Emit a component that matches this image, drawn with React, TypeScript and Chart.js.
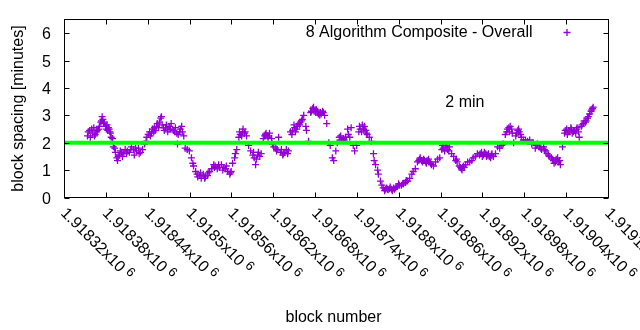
import React, { useEffect, useRef } from "react";
import { Chart, registerables } from "chart.js";

Chart.register(...registerables);

// ---- data ----
const blockNumbers = [
  1918353, 1918356, 1918357, 1918360, 1918362, 1918364, 1918366, 1918369, 1918370, 1918372,
  1918373, 1918374, 1918376, 1918377, 1918379, 1918380, 1918382, 1918383, 1918385, 1918386,
  1918387, 1918389, 1918390, 1918392, 1918393, 1918395, 1918396, 1918397, 1918399, 1918402,
  1918405, 1918407, 1918410, 1918413, 1918416, 1918419, 1918420, 1918423, 1918426, 1918429,
  1918432, 1918435, 1918438, 1918440, 1918442, 1918445, 1918446, 1918449, 1918450, 1918453,
  1918456, 1918458, 1918459, 1918460, 1918463, 1918465, 1918468, 1918471, 1918473, 1918476,
  1918478, 1918481, 1918482, 1918483, 1918486, 1918489, 1918491, 1918493, 1918496, 1918499,
  1918502, 1918504, 1918505, 1918508, 1918511, 1918514, 1918516, 1918519, 1918522, 1918525,
  1918528, 1918531, 1918534, 1918536, 1918539, 1918542, 1918545, 1918548, 1918551, 1918554,
  1918557, 1918559, 1918561, 1918564, 1918565, 1918567, 1918570, 1918572, 1918575, 1918578,
  1918581, 1918584, 1918587, 1918590, 1918592, 1918594, 1918597, 1918600, 1918602, 1918605,
  1918608, 1918611, 1918614, 1918617, 1918620, 1918623, 1918625, 1918627, 1918630, 1918633,
  1918635, 1918638, 1918641, 1918644, 1918647, 1918650, 1918653, 1918656, 1918658, 1918661,
  1918663, 1918666, 1918667, 1918670, 1918673, 1918676, 1918678, 1918681, 1918684, 1918687,
  1918690, 1918693, 1918696, 1918699, 1918701, 1918704, 1918706, 1918709, 1918711, 1918714,
  1918717, 1918720, 1918723, 1918726, 1918729, 1918731, 1918734, 1918736, 1918739, 1918742,
  1918744, 1918747, 1918749, 1918752, 1918754, 1918757, 1918760, 1918763, 1918764, 1918766,
  1918769, 1918770, 1918773, 1918775, 1918777, 1918780, 1918783, 1918786, 1918789, 1918792,
  1918795, 1918797, 1918800, 1918803, 1918806, 1918809, 1918812, 1918815, 1918818, 1918820,
  1918823, 1918826, 1918829, 1918832, 1918835, 1918838, 1918840, 1918843, 1918846, 1918849,
  1918852, 1918855, 1918858, 1918861, 1918863, 1918866, 1918869, 1918872, 1918875, 1918878,
  1918881, 1918883, 1918886, 1918889, 1918892, 1918895, 1918898, 1918901, 1918904, 1918906,
  1918909, 1918912, 1918915, 1918918, 1918921, 1918924, 1918926, 1918929, 1918932, 1918935,
  1918938, 1918941, 1918944, 1918947, 1918949, 1918952, 1918955, 1918958, 1918959, 1918962,
  1918964, 1918967, 1918970, 1918972, 1918975, 1918978, 1918981, 1918984, 1918987, 1918990,
  1918992, 1918995, 1918998, 1919001, 1919004, 1919007, 1919010, 1919012, 1919015, 1919018,
  1919021, 1919024, 1919027, 1919030, 1919031, 1919034, 1919037, 1919040, 1919043, 1919046,
  1919048, 1919051, 1919054, 1919057, 1919058, 1919061, 1919064, 1919067, 1919070, 1919073,
  1919076, 1919078,
  // in-between blocks (spread of the band)
  1918354, 1918359, 1918363, 1918367, 1918375, 1918381, 1918384, 1918400, 1918403, 1918409,
  1918415, 1918422, 1918427, 1918437, 1918443, 1918448, 1918452, 1918455, 1918462, 1918466,
  1918470, 1918472, 1918479, 1918485, 1918488, 1918510, 1918515, 1918521, 1918526, 1918535,
  1918541, 1918547, 1918552, 1918558, 1918571, 1918574, 1918576, 1918579, 1918591, 1918595,
  1918598, 1918607, 1918609, 1918612, 1918618, 1918624, 1918631, 1918634, 1918640, 1918646,
  1918649, 1918651, 1918654, 1918657, 1918660, 1918674, 1918677, 1918680, 1918683, 1918686,
  1918688, 1918691, 1918716, 1918721, 1918727, 1918743, 1918746, 1918750, 1918753, 1918779,
  1918782, 1918784, 1918787, 1918790, 1918793, 1918799, 1918805, 1918810, 1918828, 1918830,
  1918833, 1918836, 1918839, 1918842, 1918845, 1918862, 1918865, 1918868, 1918871, 1918882,
  1918888, 1918890, 1918893, 1918916, 1918919, 1918922, 1918925, 1918928, 1918931, 1918933,
  1918954, 1918957, 1918961, 1918968, 1918971, 1918974, 1918997, 1919003, 1919008, 1919014,
  1919020, 1919022, 1919025, 1919028, 1919038, 1919041, 1919044, 1919047, 1919050, 1919053,
  1919055, 1919062, 1919065, 1919068, 1919071, 1919075, 1919077,
];

const blockSpacing = [
  2.25, 2.45, 2.2, 2.35, 2.55, 2.3, 2.4, 2.5, 2.6, 2.75,
  2.8, 2.95, 2.7, 2.75, 2.6, 2.5, 2.45, 2.55, 2.4, 2.35,
  2.2, 2.15, 1.85, 1.8, 1.65, 1.45, 1.35, 1.5, 1.55, 1.65,
  1.6, 1.75, 1.7, 1.65, 1.85, 1.75, 1.55, 1.7, 1.8, 1.65,
  1.75, 1.95, 2.2, 2.3, 2.4, 2.35, 2.5, 2.55, 2.45, 2.7,
  2.75, 2.9, 2.95, 2.65, 2.45, 2.55, 2.4, 2.6, 2.7, 2.45,
  2.4, 2.35, 1.95, 2.3, 2.5, 2.4, 2.25, 1.8, 1.75, 1.7,
  1.45, 1.25, 1.15, 0.95, 0.75, 0.8, 0.7, 0.85, 0.75, 0.8,
  0.95, 1.05, 1.2, 1.15, 1.05, 1.1, 1.2, 1.1, 1.05, 0.95,
  0.85, 0.95, 1.25, 1.45, 1.6, 1.75, 2.2, 2.3, 2.4, 2.35,
  2.25, 1.9, 1.7, 1.55, 1.45, 1.2, 1.55, 1.5, 1.6, 2.15,
  2.3, 2.25, 2.35, 2.15, 1.85, 1.8, 1.75, 2.2, 1.65, 1.55,
  1.65, 1.75, 1.7, 2.4, 2.45, 2.55, 2.5, 2.7, 2.75, 2.85,
  3.0, 2.6, 2.45, 2.05, 3.1, 3.25, 3.15, 3.2, 3.05, 3.1,
  3.15, 3.0, 2.7, 2.0, 1.9, 1.45, 1.35, 1.7, 2.0, 2.2,
  2.1, 2.15, 2.2, 2.5, 2.2, 2.55, 1.9, 1.7, 1.9, 2.4,
  2.5, 2.65, 2.5, 2.45, 2.3, 2.2, 2.05, 1.6, 1.35, 1.2,
  1.0, 0.85, 0.6, 0.45, 0.35, 0.3, 0.3, 0.32, 0.3, 0.35,
  0.35, 0.4, 0.45, 0.45, 0.5, 0.55, 0.6, 0.7, 0.85, 0.95,
  1.05, 1.3, 1.4, 1.35, 1.4, 1.3, 1.35, 1.3, 1.2, 1.15,
  1.3, 1.4, 1.45, 1.75, 1.8, 1.9, 1.75, 1.85, 1.6, 1.5,
  1.35, 1.3, 1.15, 1.05, 1.15, 1.2, 1.3, 1.3, 1.35, 1.45,
  1.5, 1.6, 1.55, 1.65, 1.55, 1.6, 1.55, 1.5, 1.55, 1.5,
  1.6, 1.85, 1.8, 1.9, 1.95, 2.3, 2.5, 2.4, 2.6, 2.35,
  2.0, 2.25, 2.45, 2.4, 2.2, 2.1, 2.1, 2.05, 2.1, 1.95,
  2.0, 1.8, 1.95, 1.85, 1.75, 1.85, 1.7, 1.6, 1.5, 1.45,
  1.35, 1.3, 1.45, 1.35, 1.2, 1.85, 2.35, 2.5, 2.4, 2.55,
  2.35, 2.45, 2.5, 2.4, 2.2, 2.6, 2.7, 2.75, 2.9, 3.05,
  3.2, 3.3,
  // in-between blocks (spread of the band)
  2.4, 2.5, 2.25, 2.45, 2.85, 2.65, 2.5, 1.7, 1.5, 1.6,
  1.75, 1.8, 1.6, 2.05, 2.25, 2.4, 2.6, 2.55, 2.55, 2.65,
  2.5, 2.5, 2.55, 2.4, 2.6, 0.85, 0.9, 0.7, 0.9, 1.1,
  1.2, 1.0, 1.15, 0.9, 2.4, 2.25, 2.5, 2.4, 1.65, 1.4,
  1.65, 2.25, 2.35, 2.2, 1.95, 1.7, 1.75, 1.6, 1.6, 2.3,
  2.65, 2.4, 2.6, 2.65, 2.8, 3.15, 3.3, 3.1, 3.15, 3.0,
  3.05, 3.1, 2.25, 2.1, 2.3, 2.6, 2.4, 2.6, 2.35, 0.25,
  0.35, 0.28, 0.38, 0.25, 0.3, 0.5, 0.5, 0.62, 1.35, 1.45,
  1.3, 1.35, 1.25, 1.4, 1.25, 1.9, 1.7, 1.85, 1.7, 1.4,
  1.1, 1.0, 1.1, 1.6, 1.5, 1.65, 1.5, 1.6, 1.45, 1.6,
  2.4, 2.55, 2.5, 2.35, 2.5, 2.3, 1.9, 1.8, 1.75, 1.55,
  1.4, 1.25, 1.4, 1.3, 2.45, 2.3, 2.45, 2.5, 2.4, 2.35,
  2.55, 2.65, 2.8, 2.8, 2.95, 3.15, 3.25,
];

const targetSpacing = 2;
const xMin = 1918320;
const xMax = 1919100;
const yMin = 0;
const yMax = 6.5;

const xTickValues = [
  1918320, 1918380, 1918440, 1918500, 1918560, 1918620, 1918680,
  1918740, 1918800, 1918860, 1918920, 1918980, 1919040, 1919100,
];
const xTickMantissas = [
  "1.91832", "1.91838", "1.91844", "1.9185", "1.91856", "1.91862", "1.91868",
  "1.91874", "1.9188", "1.91886", "1.91892", "1.91898", "1.91904", "1.9191",
];
const xTickExponent = "6";
const yTickValues = [0, 1, 2, 3, 4, 5, 6];

const seriesLabel = "8 Algorithm Composite - Overall";
const xTitle = "block number";
const yTitle = "block spacing [minutes]";
const noteText = "2 min";
const noteX = 1918866;
const noteY = 3.3;

const PURPLE = "#9400d3";
const GREEN = "#00ff00";
const FONT = '"Liberation Sans", Arial, sans-serif';

const decorPlugin = {
  id: "gnuplotDecor",
  afterDraw(chart: any) {
    const { ctx, chartArea: a, scales } = chart;
    const xs = scales.x;
    const ys = scales.y;
    ctx.save();
    ctx.strokeStyle = "#000";
    ctx.fillStyle = "#000";
    ctx.lineWidth = 1;

    // border
    ctx.strokeRect(a.left, a.top, a.right - a.left, a.bottom - a.top);

    // ticks (inward, mirrored)
    const tl = 5;
    ctx.beginPath();
    for (const v of yTickValues) {
      const py = Math.round(ys.getPixelForValue(v)) + 0.5;
      ctx.moveTo(a.left, py);
      ctx.lineTo(a.left + tl, py);
      ctx.moveTo(a.right, py);
      ctx.lineTo(a.right - tl, py);
    }
    for (const v of xTickValues) {
      const px = Math.round(xs.getPixelForValue(v) - 0.5) + 0.5;
      ctx.moveTo(px, a.bottom);
      ctx.lineTo(px, a.bottom - tl);
      ctx.moveTo(px, a.top);
      ctx.lineTo(px, a.top + tl);
    }
    ctx.stroke();

    // y tick labels
    ctx.font = `16px ${FONT}`;
    ctx.textAlign = "right";
    ctx.textBaseline = "alphabetic";
    for (const v of yTickValues) {
      const py = ys.getPixelForValue(v);
      ctx.fillText(String(v), 51, py + 6);
    }

    // x tick labels, rotated 45deg clockwise, starting at the tick
    xTickValues.forEach((v, i) => {
      const px = xs.getPixelForValue(v);
      ctx.save();
      ctx.translate(px - 1.4, 210.8);
      ctx.rotate(Math.PI / 4);
      ctx.textAlign = "left";
      ctx.textBaseline = "middle";
      ctx.font = `16px ${FONT}`;
      const main = xTickMantissas[i] + "x10";
      ctx.fillText(main, 0, 0);
      const w = ctx.measureText(main).width;
      ctx.font = `13px ${FONT}`;
      ctx.fillText(xTickExponent, w + 4, -4);
      ctx.restore();
    });

    // axis titles
    ctx.font = `16px ${FONT}`;
    ctx.textAlign = "center";
    ctx.textBaseline = "alphabetic";
    ctx.fillText(xTitle, (a.left + a.right) / 2 - 3, 321.5);

    ctx.save();
    ctx.translate(19, 108.5);
    ctx.rotate(-Math.PI / 2);
    ctx.textBaseline = "middle";
    ctx.fillText(yTitle, 0, 0);
    ctx.restore();

    // key
    ctx.textAlign = "right";
    ctx.textBaseline = "alphabetic";
    ctx.fillText(seriesLabel, 532.5, 37.3);
    ctx.strokeStyle = PURPLE;
    ctx.lineWidth = 1.3;
    ctx.beginPath();
    ctx.moveTo(563.5, 32.5);
    ctx.lineTo(570.5, 32.5);
    ctx.moveTo(567, 29);
    ctx.lineTo(567, 36);
    ctx.stroke();

    // label
    ctx.fillStyle = "#000";
    ctx.textAlign = "left";
    ctx.fillText(noteText, xs.getPixelForValue(noteX), ys.getPixelForValue(noteY));

    ctx.restore();
  },
};

export default function App() {
  const canvasRef = useRef<HTMLCanvasElement | null>(null);

  useEffect(() => {
    const canvas = canvasRef.current;
    if (!canvas) return;
    const points = blockNumbers.map((b, i) => ({ x: b, y: blockSpacing[i] }));
    const chart = new Chart(canvas, {
      type: "scatter",
      data: {
        datasets: [
          {
            label: "2 min",
            type: "line",
            data: [
              { x: xMin, y: targetSpacing },
              { x: xMax, y: targetSpacing },
            ],
            borderColor: GREEN,
            backgroundColor: GREEN,
            borderWidth: 4,
            pointRadius: 0,
            fill: false,
            order: 0,
          } as any,
          {
            label: seriesLabel,
            data: points,
            showLine: false,
            pointStyle: "cross",
            pointRadius: 3.5,
            pointBorderWidth: 1.3,
            borderColor: PURPLE,
            backgroundColor: PURPLE,
            order: 1,
          } as any,
        ],
      },
      options: {
        animation: false,
        responsive: false,
        events: [],
        layout: { padding: { left: 64.5, right: 31.5, top: 19.5, bottom: 132.5 } },
        plugins: {
          legend: { display: false },
          tooltip: { enabled: false },
        },
        scales: {
          x: { type: "linear", min: xMin, max: xMax, display: false },
          y: { type: "linear", min: yMin, max: yMax, display: false },
        },
      },
      plugins: [decorPlugin],
    });
    return () => chart.destroy();
  }, []);

  return (
    <div style={{ position: "fixed", left: 0, top: 0, width: 640, height: 330, background: "#fff" }}>
      <canvas ref={canvasRef} width={640} height={330} style={{ width: 640, height: 330, display: "block" }} />
    </div>
  );
}
